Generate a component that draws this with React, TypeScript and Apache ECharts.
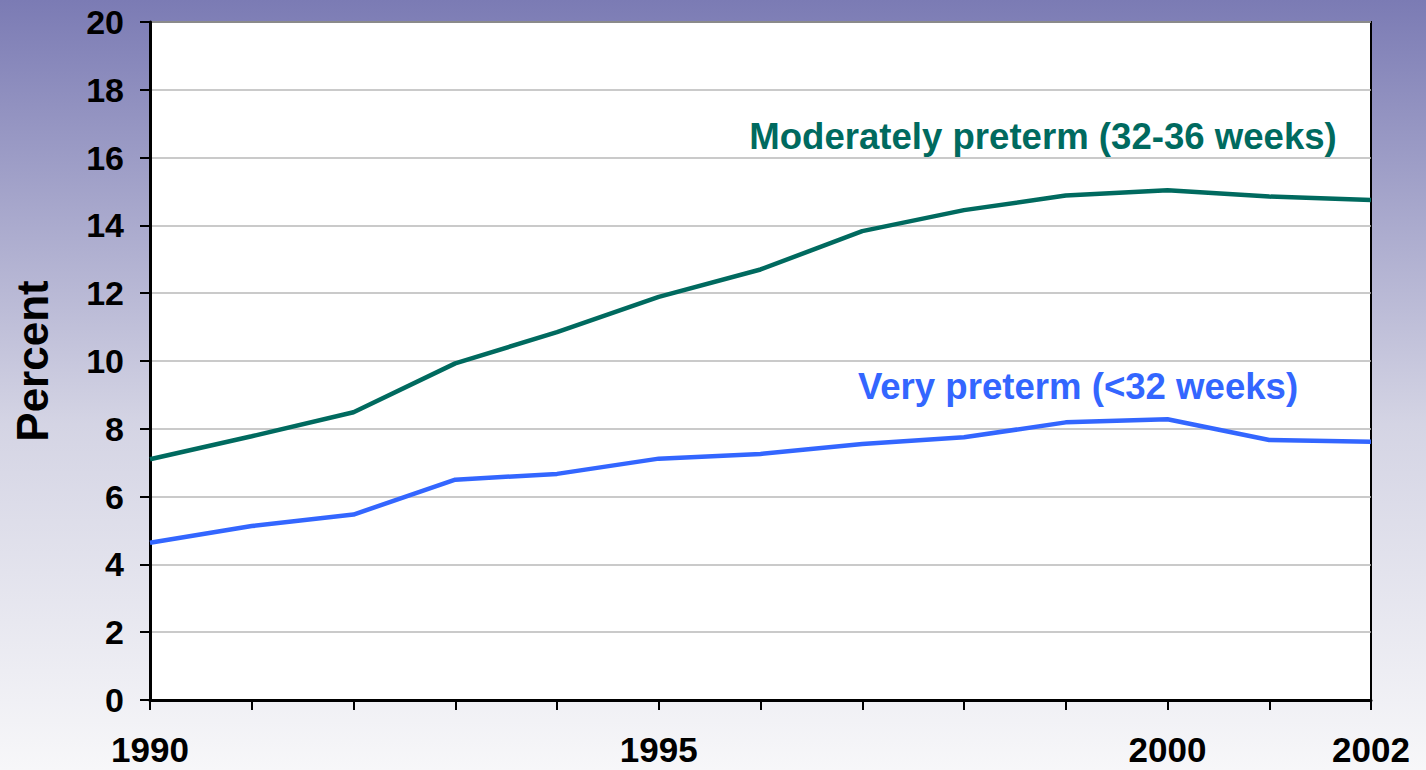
import React, { useEffect, useRef } from "react";
import * as echarts from "echarts";

const years = [1990, 1991, 1992, 1993, 1994, 1995, 1996, 1997, 1998, 1999, 2000, 2001, 2002];
const moderatelyPreterm = [7.1, 7.78, 8.49, 9.93, 10.85, 11.89, 12.7, 13.83, 14.45, 14.88, 15.04, 14.85, 14.75];
const veryPreterm = [4.64, 5.13, 5.47, 6.5, 6.67, 7.12, 7.26, 7.55, 7.75, 8.19, 8.28, 7.67, 7.62];
const xTickLabels = [1990, 1995, 2000, 2002];
const yAxisTitle = "Percent";
const moderateLabel = "Moderately preterm (32-36 weeks)";
const veryLabel = "Very preterm (<32 weeks)";

const FONT = "'Liberation Sans', Arial, sans-serif";
const TEAL = "#006a5f";
const BLUE = "#3366ff";

export default function App() {
  const ref = useRef<HTMLDivElement>(null);
  useEffect(() => {
    if (!ref.current) return;
    const chart = echarts.init(ref.current, undefined, { renderer: "svg" });
    chart.setOption({
      animation: false,
      backgroundColor: new echarts.graphic.LinearGradient(0, 0, 0, 1, [
        { offset: 0, color: "#7b7bb4" },
        { offset: 0.55, color: "#d4d4e4" },
        { offset: 1, color: "#f7f7f9" },
      ]),
      grid: {
        left: 150,
        right: 55,
        top: 22,
        bottom: 70,
        show: true,
        backgroundColor: "#ffffff",
        borderColor: "#000000",
        borderWidth: 2,
      },
      xAxis: {
        type: "value",
        min: 1990,
        max: 2002,
        interval: 1,
        axisLine: { show: true, lineStyle: { color: "#000", width: 3 } },
        axisTick: { show: true, length: 10, lineStyle: { color: "#000", width: 2 } },
        splitLine: { show: false },
        axisLabel: {
          margin: 32,
          fontSize: 35,
          fontWeight: "bold",
          fontFamily: FONT,
          color: "#000",
          showMinLabel: true,
          showMaxLabel: true,
          formatter: (v: number) => (xTickLabels.includes(v) ? String(v) : ""),
        },
      },
      yAxis: {
        type: "value",
        min: 0,
        max: 20,
        interval: 2,
        axisLine: { show: true, lineStyle: { color: "#000", width: 3 } },
        axisTick: { show: true, length: 10, lineStyle: { color: "#000", width: 2 } },
        splitLine: { show: true, lineStyle: { color: "#b8b8b8", width: 1.5 } },
        axisLabel: {
          margin: 26,
          fontSize: 34,
          fontWeight: "bold",
          fontFamily: FONT,
          color: "#000",
        },
      },
      series: [
        {
          name: moderateLabel,
          type: "line",
          data: years.map((y, i) => [y, moderatelyPreterm[i]]),
          showSymbol: false,
          lineStyle: { color: TEAL, width: 4.5 },
          itemStyle: { color: TEAL },
        },
        {
          name: veryLabel,
          type: "line",
          data: years.map((y, i) => [y, veryPreterm[i]]),
          showSymbol: false,
          lineStyle: { color: BLUE, width: 4.5 },
          itemStyle: { color: BLUE },
        },
      ],
      graphic: [
        {
          type: "text",
          x: 32,
          y: 361,
          rotation: Math.PI / 2,
          style: {
            text: yAxisTitle,
            fill: "#000",
            fontSize: 44,
            fontWeight: "bold",
            fontFamily: FONT,
            textAlign: "center",
            textVerticalAlign: "middle",
          },
        },
        {
          type: "text",
          x: 1043,
          y: 136,
          style: {
            text: moderateLabel,
            fill: TEAL,
            fontSize: 36.6,
            fontWeight: "bold",
            fontFamily: FONT,
            textAlign: "center",
            textVerticalAlign: "middle",
          },
        },
        {
          type: "text",
          x: 1078,
          y: 386,
          style: {
            text: veryLabel,
            fill: BLUE,
            fontSize: 36.6,
            fontWeight: "bold",
            fontFamily: FONT,
            textAlign: "center",
            textVerticalAlign: "middle",
          },
        },
      ],
    });
    return () => chart.dispose();
  }, []);
  return (
    <div
      ref={ref}
      style={{ position: "fixed", left: 0, top: 0, width: 1426, height: 770 }}
    />
  );
}
